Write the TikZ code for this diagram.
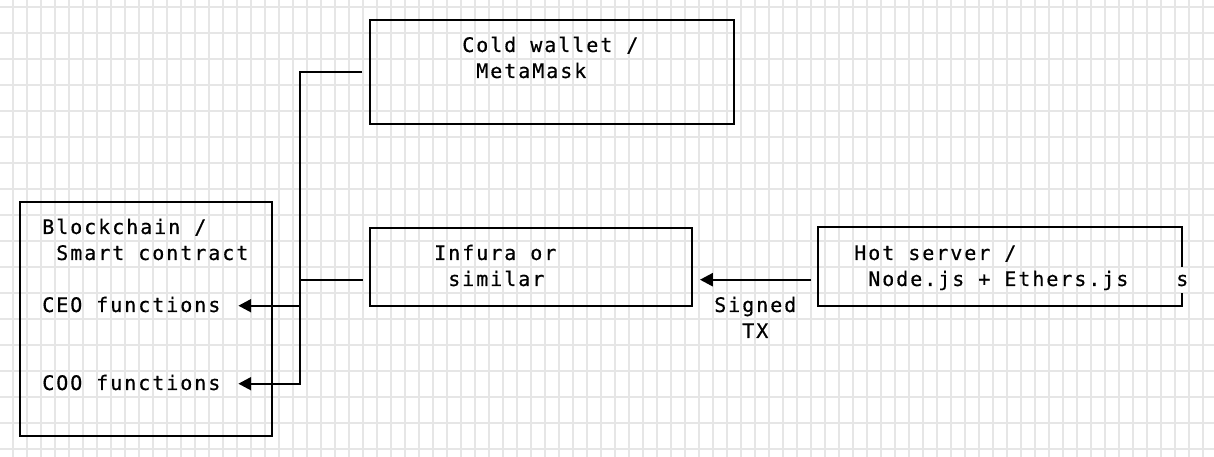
\documentclass[tikz,border=0pt]{standalone}
\usepackage{fontspec}
\setmonofont[LetterSpace=9.8,FakeBold=0.6]{DejaVu Sans Mono}
\usetikzlibrary{arrows.meta,calc,fit}
\definecolor{gridgray}{RGB}{230,230,230}

\begin{document}
\begin{tikzpicture}[x=10.5pt,y=-19.5pt,
    gridline/.style={gridgray,line width=1.3pt},
    box/.style={draw,line width=1.5pt,inner sep=0pt},
    wire/.style={line width=1.5pt},
    arrow/.style={wire,-{Triangle[length=9.6pt,width=9.8pt]}},
    txt/.style={anchor=base west,inner sep=0pt,xshift=-4.5pt,yshift=-4.7pt,
                font=\ttfamily\fontsize{15pt}{18pt}\selectfont}]
  % one unit = one character cell
  \useasboundingbox (-0.4286,-0.7577) rectangle (86.2857,16.781);
  \fill[white] (-0.4286,-0.7577) rectangle (86.2857,16.781);
  \begin{scope}
    \clip (-0.4286,-0.7577) rectangle (86.2857,16.781);
    \foreach \i in {0,...,86} \draw[gridline] (\i-.5,-1) -- (\i-.5,17);
    \foreach \j in {0,...,17} \draw[gridline] (-1,\j-.5) -- (87,\j-.5);
  \end{scope}

  % boxes
  \node[box,fit={(26,0) (52,4)}] (cold) {};
  \node[box,fit={(1,7) (19,16)}] (chain) {};
  \node[box,fit={(26,8) (49,11)}] (infura) {};
  \node[inner sep=0pt,fit={(58,8) (84,11)}] (hot) {};
  \draw[wire] (hot.east) -- (hot.north east) -- (hot.north west)
              -- (hot.south west) -- (hot.south east) -- ++(0,-.5);

  % texts
  \node[txt] (cold1) at (33,1) {Cold wallet /};
  \node[txt] (cold2) at (34,2) {MetaMask};
  \node[txt] (chain1) at (3,8) {Blockchain /};
  \node[txt] (chain2) at (4,9) {Smart contract};
  \node[txt] (ceo) at (3,11) {CEO functions};
  \node[txt] (coo) at (3,14) {COO functions};
  \node[txt] (infura1) at (31,9) {Infura or};
  \node[txt] (infura2) at (32,10) {similar};
  \node[txt] (hot1) at (61,9) {Hot server /};
  \node[txt] (hot2) at (62,10) {Node.js + Ethers.js};
  \node[txt] (hots) at (84,10) {s};
  \node[txt] (signed1) at (51,11) {Signed};
  \node[txt] (signed2) at (53,12) {TX};

  % connectors
  \coordinate (bus) at (21,14);
  \coordinate (ceo tip) at (16.6,11);
  \coordinate (coo tip) at (16.6,14);
  \coordinate (infura in) at (25.5,10);
  \coordinate (hot out) at (57.5,10);
  \coordinate (tx tip) at (49.57,10);
  \draw[arrow] ($(cold.west)+(-.5,0)$) -| (bus) -- (coo tip);
  \draw[arrow] (bus |- ceo tip) -- (ceo tip);
  \draw[wire] (bus |- infura in) -- (infura in);
  \draw[arrow] (hot out) -- (tx tip);
\end{tikzpicture}
\end{document}
